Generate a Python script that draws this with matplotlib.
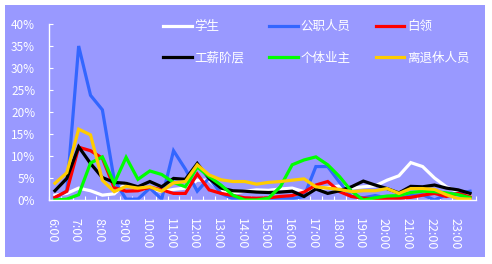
import matplotlib
matplotlib.use("Agg")
import matplotlib.pyplot as plt
from matplotlib.patches import Rectangle

plt.rcParams["font.family"] = ["Noto Sans CJK SC", "DejaVu Sans"]

# 半小时一个点, 6:00 ~ 23:30
times = [f"{h}:{m:02d}" for h in range(6, 24) for m in (0, 30)]
hour_labels = [f"{h}:00" for h in range(6, 24)]

students = [1.1, 1.5, 2.7, 2.1, 1.1, 1.4, 3.8, 2.3, 2.7, 1.9, 2.4, 2.7,
            4.5, 4.5, 2.0, 1.5, 2.0, 2.3, 2.2, 2.5, 2.7, 1.9, 2.5, 2.8,
            3.2, 2.7, 3.0, 3.2, 4.5, 5.5, 8.5, 7.6, 5.0, 3.0, 1.8, 1.0]
civil = [0.5, 2.0, 35.0, 23.8, 20.5, 4.5, 0.2, 0.2, 2.7, 0.2, 11.2, 7.0,
         2.0, 5.0, 1.5, 0.3, 0.1, 0.1, 0.2, 0.3, 0.3, 0.8, 7.6, 7.6,
         4.0, 0.8, 0.5, 1.0, 0.5, 0.3, 1.0, 1.2, 0.0, 1.2, 1.5, 2.0]
white_collar = [0.6, 2.0, 12.0, 11.2, 9.5, 2.8, 2.0, 2.1, 2.9, 2.3, 1.5, 1.5,
                5.9, 2.3, 1.5, 1.0, 0.5, 0.4, 0.5, 0.8, 1.0, 1.8, 3.4, 4.2,
                1.9, 0.8, 0.4, 0.3, 0.4, 0.4, 0.6, 1.1, 1.5, 0.8, 1.5, 0.7]
workers = [2.1, 4.9, 12.1, 8.3, 5.1, 4.0, 3.8, 3.0, 4.2, 3.0, 4.9, 4.7,
           8.3, 4.9, 2.7, 2.1, 2.0, 1.8, 1.7, 1.8, 2.0, 0.8, 2.5, 1.5,
           2.1, 3.0, 4.3, 3.4, 2.6, 1.6, 3.1, 3.0, 3.4, 2.7, 2.3, 1.5]
self_employed = [0.0, 0.2, 1.2, 8.4, 9.8, 3.8, 9.7, 4.7, 6.6, 5.8, 4.0, 3.0,
                 7.5, 5.3, 3.4, 1.1, 0.0, 0.0, 0.4, 3.0, 8.0, 9.1, 9.8, 8.0,
                 5.3, 2.0, 0.0, 0.5, 0.9, 1.0, 1.7, 2.0, 1.9, 1.6, 1.2, 0.5]
retired = [3.8, 6.2, 16.1, 14.8, 4.5, 1.9, 3.1, 2.7, 3.0, 2.0, 3.9, 4.2,
           8.0, 5.7, 4.6, 4.2, 4.2, 3.6, 4.0, 4.2, 4.5, 4.8, 3.0, 2.7,
           2.4, 1.9, 2.1, 2.1, 2.6, 1.5, 2.6, 2.6, 2.4, 1.2, 0.3, 0.2]

series = [
    ("学生", students, "#FFFFFF"),
    ("公职人员", civil, "#3366FF"),
    ("白领", white_collar, "#FF0000"),
    ("工薪阶层", workers, "#000000"),
    ("个体业主", self_employed, "#00FF00"),
    ("离退休人员", retired, "#FFCC00"),
]

BG = "#9999FF"

fig = plt.figure(figsize=(4.92, 2.64), dpi=100)
fig.patches.append(Rectangle((5 / 492, 7 / 264), 480 / 492, 252 / 264,
                             transform=fig.transFigure, facecolor=BG,
                             edgecolor="none", zorder=-10))
ax = fig.add_axes([49 / 492, 1 - 200 / 264, 427 / 492, 176 / 264])
ax.set_facecolor("none")

x = list(range(len(times)))
lines = {}
for name, vals, color in series:
    (ln,) = ax.plot(x, [v / 100 for v in vals], color=color, lw=2.3,
                    label=name, solid_joinstyle="miter")
    lines[name] = ln

ax.set_xlim(-0.5, len(times) - 0.5)
ax.set_ylim(0, 0.4)
ax.set_yticks([i * 0.05 for i in range(9)])
ax.set_yticklabels([f"{i * 5}%" for i in range(9)])
ax.set_xticks([i - 0.5 for i in range(len(times) + 1)])
ax.set_xticklabels([])
ax.set_xticks([i * 2 - 0.3 for i in range(len(hour_labels))], minor=True)
ax.set_xticklabels(hour_labels, minor=True, rotation=-90)

for s in ("top", "right"):
    ax.spines[s].set_visible(False)
for s in ("left", "bottom"):
    ax.spines[s].set_color("white")
    ax.spines[s].set_linewidth(1)
ax.tick_params(axis="y", direction="in", length=3, color="white",
               labelcolor="white", labelsize=8.5, pad=10)
ax.tick_params(axis="x", which="major", direction="in", length=3,
               color="white")
ax.tick_params(axis="x", which="minor", length=0, labelcolor="white",
               labelsize=9, pad=13)

order = ["学生", "工薪阶层", "公职人员", "个体业主", "白领", "离退休人员"]
ax.legend([lines[n] for n in order], order, ncol=3, frameon=False,
          loc="upper left", bbox_to_anchor=(163 / 492, 1 - 20 / 264),
          bbox_transform=fig.transFigure, fontsize=9, labelcolor="white",
          handlelength=2.3, handletextpad=0.2, columnspacing=2.0,
          labelspacing=1.5, borderpad=0, borderaxespad=0)

fig.savefig("out.png", dpi=100)
